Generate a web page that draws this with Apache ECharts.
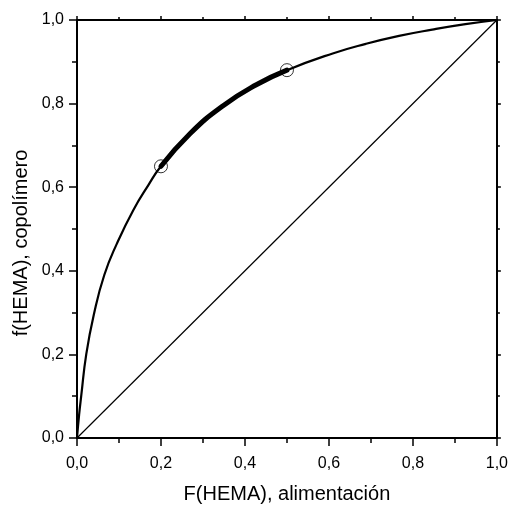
<!DOCTYPE html>
<html><head><meta charset="utf-8">
<script src="https://cdn.jsdelivr.net/npm/echarts@6/dist/echarts.min.js"></script>
<style>html,body{margin:0;padding:0;background:#fff}#c{width:511px;height:509px}</style>
</head><body><div id="c"></div>
<script>
var curveF = [0, 0.005, 0.010, 0.022, 0.040, 0.065, 0.095, 0.134, 0.170, 0.200, 0.269, 0.348, 0.427, 0.500, 0.609, 0.688, 0.767, 0.846, 0.925, 1.0];
var curvef = [0, 0.055, 0.100, 0.200, 0.295, 0.390, 0.465, 0.545, 0.605, 0.650, 0.728, 0.795, 0.845, 0.880, 0.920, 0.943, 0.962, 0.977, 0.990, 1.0];
var thickF = [0.200, 0.269, 0.348, 0.427, 0.500];
var thickf = [0.650, 0.728, 0.795, 0.845, 0.880];
var pointsF = [0.2, 0.5];
var pointsf = [0.65, 0.88];
var diagF = [0, 1];
var diagf = [0, 1];
var xTitle = 'F(HEMA), alimentación';
var yTitle = 'f(HEMA), copolímero';

function zip(a, b) { return a.map(function (v, i) { return [v, b[i]]; }); }
function fmt(v) { return v.toFixed(1).replace('.', ','); }
var FONT = '"Liberation Sans", Arial, sans-serif';

var chart = echarts.init(document.getElementById('c'), null, {renderer: 'canvas'});
var axisCommon = {
  type: 'value', min: 0, max: 1, interval: 0.2,
  splitLine: {show: false},
  axisLine: {show: true, onZero: false, lineStyle: {color: '#000', width: 2}},
  axisTick: {show: true, inside: false, length: 8, lineStyle: {color: '#000', width: 1.5}},
  minorTick: {show: true, splitNumber: 2, length: 5, lineStyle: {color: '#000', width: 1.5}}
};
function mk(extra) { return Object.assign({}, JSON.parse(JSON.stringify(axisCommon)), extra); }

chart.setOption({
  backgroundColor: '#fff',
  animation: false,
  grid: {left: 77, right: 14, top: 20, bottom: 68},
  xAxis: [
    mk({position: 'bottom', axisLabel: {color: '#000', fontSize: 16, fontFamily: FONT, margin: 18, formatter: fmt},
        name: xTitle, nameLocation: 'middle', nameGap: 46,
        nameTextStyle: {color: '#000', fontSize: 20, fontFamily: FONT}}),
    mk({position: 'top', axisLabel: {show: false},
        axisTick: {show: true, length: 4, lineStyle: {color: '#000', width: 1.5}},
        minorTick: {show: true, splitNumber: 2, length: 3, lineStyle: {color: '#000', width: 1.5}}})
  ],
  yAxis: [
    mk({position: 'left', axisLabel: {color: '#000', fontSize: 16, fontFamily: FONT, margin: 13, formatter: fmt}}),
    mk({position: 'right', axisLabel: {show: false},
        axisTick: {show: true, length: 4, lineStyle: {color: '#000', width: 1.5}},
        minorTick: {show: true, splitNumber: 2, length: 3, lineStyle: {color: '#000', width: 1.5}}})
  ],
  graphic: [{
    type: 'text', x: 21, y: 243, rotation: Math.PI / 2,
    style: {text: yTitle, fill: '#000', font: '20px ' + FONT, textAlign: 'center', textVerticalAlign: 'middle'}
  }],
  series: [
    {type: 'line', data: zip(diagF, diagf), symbol: 'none', lineStyle: {color: '#000', width: 1.2}},
    {type: 'line', data: zip(curveF, curvef), symbol: 'none', smooth: 0.5, lineStyle: {color: '#000', width: 2.2}},
    {type: 'line', data: zip(thickF, thickf), symbol: 'none', smooth: 0.5, lineStyle: {color: '#000', width: 5, cap: 'round'}},
    {type: 'scatter', data: zip(pointsF, pointsf), symbol: 'circle', symbolSize: 13,
     itemStyle: {color: 'rgba(0,0,0,0)', borderColor: '#000', borderWidth: 1}}
  ]
});
</script></body></html>
